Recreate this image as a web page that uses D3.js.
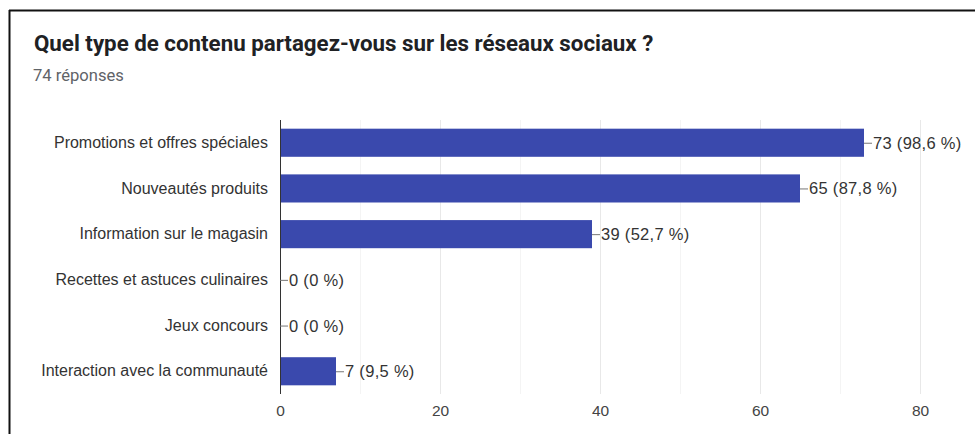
<!DOCTYPE html>
<html>
<head>
<meta charset="utf-8">
<script src="https://cdn.jsdelivr.net/npm/d3@7"></script>
<style>
  body { margin: 0; background: #fff; }
  svg { display: block; font-family: "Liberation Sans", Arial, sans-serif; }
</style>
</head>
<body>
<script>
// data
var categories = [
  "Promotions et offres spéciales",
  "Nouveautés produits",
  "Information sur le magasin",
  "Recettes et astuces culinaires",
  "Jeux concours",
  "Interaction avec la communauté"
];
var counts = [73, 65, 39, 0, 0, 7];
var percents = ["98,6", "87,8", "52,7", "0", "0", "9,5"];
var xTicks = [0, 20, 40, 60, 80];
var minorTicks = [10, 30, 50, 70];

var W = 975, H = 434;
var margin = {top: 120, right: 55, bottom: 40, left: 280};
var width = 920 - margin.left,
    height = 394 - margin.top;

var svg = d3.select("body").append("svg")
    .attr("width", W)
    .attr("height", H);

// frame (top and left edge of the screenshot border)
svg.append("line").attr("x1", 9).attr("x2", W).attr("y1", 10.5).attr("y2", 10.5)
    .attr("stroke", "#111").attr("stroke-width", 2);
svg.append("line").attr("x1", 9.5).attr("x2", 9.5).attr("y1", 10).attr("y2", H)
    .attr("stroke", "#111").attr("stroke-width", 2);

svg.append("text")
    .attr("x", 34).attr("y", 51)
    .attr("font-family", "Roboto, sans-serif")
    .attr("font-size", 22.3).attr("font-weight", "bold")
    .attr("fill", "#202124")
    .text("Quel type de contenu partagez-vous sur les réseaux sociaux ?");

svg.append("text")
    .attr("x", 33).attr("y", 81)
    .attr("font-family", "Roboto, sans-serif")
    .attr("font-size", 16.6)
    .attr("fill", "#5f6368")
    .text("74 réponses");

var g = svg.append("g")
    .attr("transform", "translate(" + margin.left + "," + margin.top + ")");

var x = d3.scaleLinear().domain([0, 80]).range([0, width]);
var y = d3.scaleBand().domain(categories).range([0, height]).paddingInner(0.385).paddingOuter(0.19);

// gridlines
g.selectAll(".minor").data(minorTicks).enter().append("line")
    .attr("x1", function(d) { return x(d) + 0.5; })
    .attr("x2", function(d) { return x(d) + 0.5; })
    .attr("y1", 0).attr("y2", height)
    .attr("stroke", "#f4f4f4");
g.selectAll(".major").data(xTicks.slice(1)).enter().append("line")
    .attr("x1", function(d) { return x(d) + 0.5; })
    .attr("x2", function(d) { return x(d) + 0.5; })
    .attr("y1", 0).attr("y2", height)
    .attr("stroke", "#e8e8e8");

// bars
g.selectAll(".bar").data(counts).enter().append("rect")
    .attr("x", x(0))
    .attr("y", function(d, i) { return y(categories[i]); })
    .attr("width", function(d) { return x(d) - x(0); })
    .attr("height", y.bandwidth())
    .attr("fill", "#3a49ad");

// zero axis line
g.append("line")
    .attr("x1", 0.5).attr("x2", 0.5)
    .attr("y1", 0).attr("y2", height)
    .attr("stroke", "#333");

// value labels with leader line
var lab = g.selectAll(".lab").data(counts).enter().append("g")
    .attr("transform", function(d, i) {
      return "translate(" + x(d) + "," + (y(categories[i]) + y.bandwidth() / 2) + ")";
    });
lab.append("line")
    .attr("x1", 0).attr("x2", 8)
    .attr("y1", 0.5).attr("y2", 0.5)
    .attr("stroke", "#777");
lab.append("text")
    .attr("x", 9).attr("dy", "0.36em")
    .attr("font-size", 16.5).attr("fill", "#333")
    .attr("letter-spacing", 0.3)
    .text(function(d, i) { return d + " (" + percents[i] + " %)"; });

// category labels
g.append("g")
    .call(d3.axisLeft(y).tickSize(0).tickPadding(12))
    .call(function(s) { s.select(".domain").remove(); })
    .selectAll("text")
    .attr("font-size", 16)
    .attr("font-family", "Liberation Sans, Arial, sans-serif")
    .attr("fill", "#333");

// x axis labels
g.append("g")
    .attr("transform", "translate(0," + height + ")")
    .call(d3.axisBottom(x).tickValues(xTicks).tickSize(0).tickPadding(11))
    .call(function(s) { s.select(".domain").remove(); })
    .selectAll("text")
    .attr("font-size", 15.5)
    .attr("font-family", "Liberation Sans, Arial, sans-serif")
    .attr("fill", "#444");
</script>
</body>
</html>
